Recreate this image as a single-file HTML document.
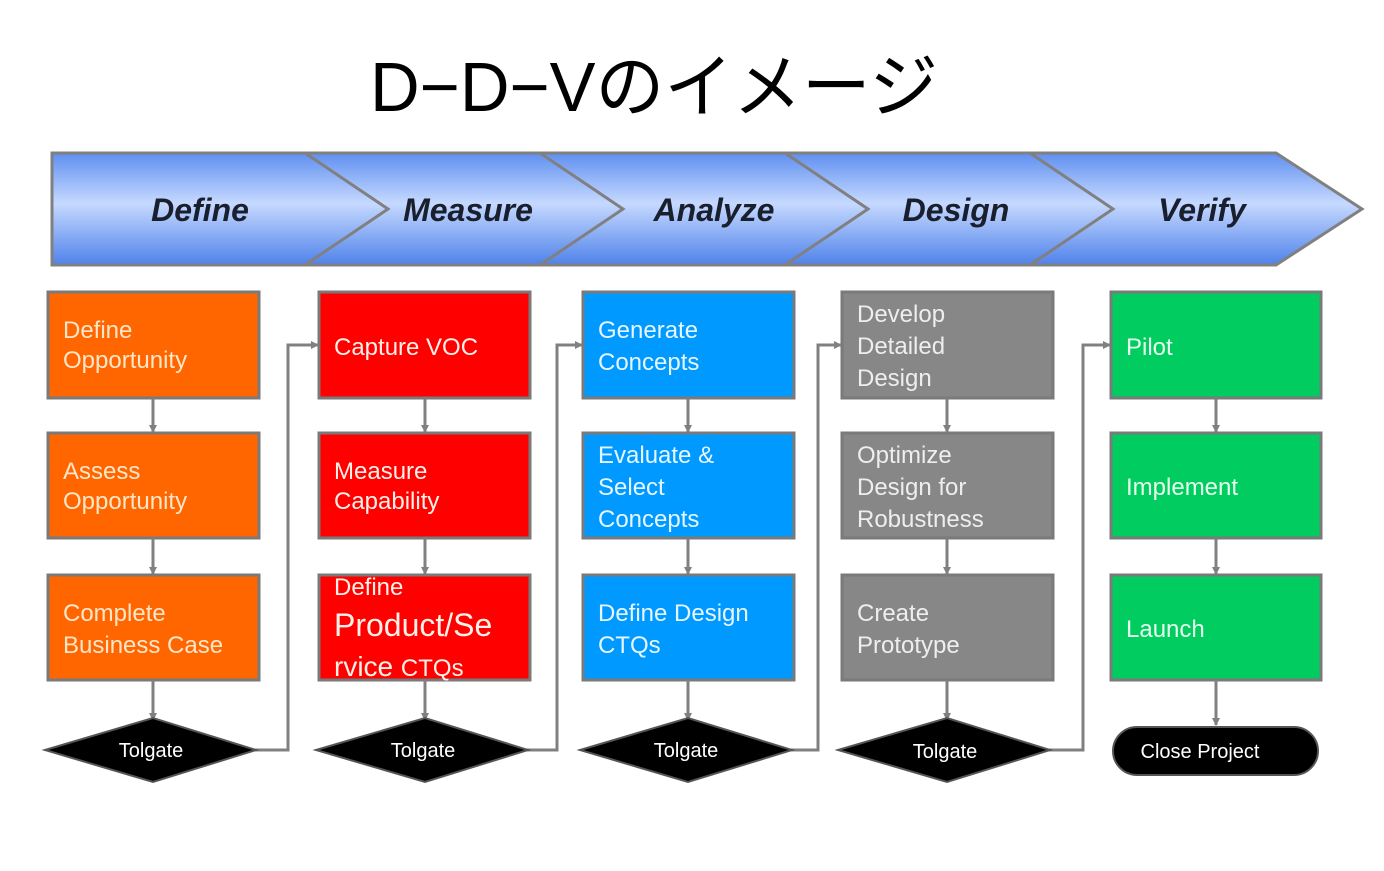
<!DOCTYPE html>
<html><head><meta charset="utf-8"><style>
html,body{margin:0;padding:0;background:#fff;}
svg{display:block;}
.b{font-family:"Liberation Sans",sans-serif;font-size:24px;}
</style></head><body>
<svg width="1384" height="871" viewBox="0 0 1384 871" xmlns="http://www.w3.org/2000/svg">
<defs>
<linearGradient id="g" x1="0" y1="0" x2="0" y2="1">
<stop offset="0" stop-color="#5f8ff0"/>
<stop offset="0.45" stop-color="#c6d9ff"/>
<stop offset="1" stop-color="#4f82ea"/>
</linearGradient>
<marker id="a" markerWidth="8" markerHeight="8" refX="7" refY="4" orient="auto" markerUnits="userSpaceOnUse">
<path d="M0,0 L8,4 L0,8 z" fill="#808080"/>
</marker>
</defs>
<text x="370" y="111" font-family="'Liberation Sans','Noto Sans CJK JP',sans-serif" font-size="70" textLength="568" lengthAdjust="spacingAndGlyphs" fill="#000">D−D−Vのイメージ</text>

<!-- banner -->
<path d="M52,153 L1276,153 L1362,209 L1276,265 L52,265 Z" fill="url(#g)" stroke="#808080" stroke-width="3"/>
<g fill="none" stroke="#808080" stroke-width="3">
<path d="M305,153 L388,209 L305,265"/>
<path d="M540,153 L623,209 L540,265"/>
<path d="M785,153 L868,209 L785,265"/>
<path d="M1030,153 L1113,209 L1030,265"/>
</g>
<g font-family="'Liberation Sans',sans-serif" font-size="32" font-weight="bold" font-style="italic" fill="#1a1f2e" text-anchor="middle">
<text x="200" y="221">Define</text>
<text x="468" y="221">Measure</text>
<text x="714" y="221">Analyze</text>
<text x="956" y="221">Design</text>
<text x="1202" y="221">Verify</text>
</g>

<!-- boxes -->
<g stroke="#7a7a7a" stroke-width="3">
<rect x="48" y="292" width="211" height="106" fill="#ff6600"/>
<rect x="48" y="433" width="211" height="105" fill="#ff6600"/>
<rect x="48" y="575" width="211" height="105" fill="#ff6600"/>
<rect x="319" y="292" width="211" height="106" fill="#ff0000"/>
<rect x="319" y="433" width="211" height="105" fill="#ff0000"/>
<rect x="319" y="575" width="211" height="105" fill="#ff0000"/>
<rect x="583" y="292" width="211" height="106" fill="#0099ff"/>
<rect x="583" y="433" width="211" height="105" fill="#0099ff"/>
<rect x="583" y="575" width="211" height="105" fill="#0099ff"/>
<rect x="842" y="292" width="211" height="106" fill="#878787"/>
<rect x="842" y="433" width="211" height="105" fill="#878787"/>
<rect x="842" y="575" width="211" height="105" fill="#878787"/>
<rect x="1111" y="292" width="210" height="106" fill="#00cc5f"/>
<rect x="1111" y="433" width="210" height="105" fill="#00cc5f"/>
<rect x="1111" y="575" width="210" height="105" fill="#00cc5f"/>
</g>

<!-- vertical arrows -->
<g stroke="#808080" stroke-width="3" marker-end="url(#a)">
<line x1="153" y1="398" x2="153" y2="432"/><line x1="153" y1="538" x2="153" y2="574"/><line x1="153" y1="680" x2="153" y2="720"/>
<line x1="425" y1="398" x2="425" y2="432"/><line x1="425" y1="538" x2="425" y2="574"/><line x1="425" y1="680" x2="425" y2="720"/>
<line x1="688" y1="398" x2="688" y2="432"/><line x1="688" y1="538" x2="688" y2="574"/><line x1="688" y1="680" x2="688" y2="720"/>
<line x1="947" y1="398" x2="947" y2="432"/><line x1="947" y1="538" x2="947" y2="574"/><line x1="947" y1="680" x2="947" y2="720"/>
<line x1="1216" y1="398" x2="1216" y2="432"/><line x1="1216" y1="538" x2="1216" y2="574"/><line x1="1216" y1="680" x2="1216" y2="725"/>
</g>
<g fill="none" stroke="#808080" stroke-width="3" marker-end="url(#a)">
<path d="M250,750 L288,750 L288,345 L318,345"/>
<path d="M520,750 L557,750 L557,345 L582,345"/>
<path d="M785,750 L818,750 L818,345 L841,345"/>
<path d="M1045,750 L1083,750 L1083,345 L1110,345"/>
</g>

<!-- diamonds -->
<g fill="#000" stroke="#555" stroke-width="2">
<path d="M45,750 L153,718 L256,750 L153,782 Z"/>
<path d="M316,750 L425,718 L528,750 L425,782 Z"/>
<path d="M580,750 L688,718 L792,750 L688,782 Z"/>
<path d="M838,750 L947,718 L1050,750 L947,782 Z"/>
<rect x="1113" y="727" width="205" height="48" rx="24" ry="24"/>
</g>
<g font-family="'Liberation Sans',sans-serif" font-size="20" fill="#fff" text-anchor="middle">
<text x="151" y="757">Tolgate</text>
<text x="423" y="757">Tolgate</text>
<text x="686" y="757">Tolgate</text>
<text x="945" y="758">Tolgate</text>
<text x="1200" y="758">Close Project</text>
</g>

<!-- box text -->
<g class="b" fill="#ffe6c8">
<text x="63" y="338">Define</text><text x="63" y="368">Opportunity</text>
<text x="63" y="479">Assess</text><text x="63" y="509">Opportunity</text>
<text x="63" y="621">Complete</text><text x="63" y="653">Business Case</text>
</g>
<g class="b" fill="#fff0e8">
<text x="334" y="355">Capture VOC</text>
<text x="334" y="479">Measure</text><text x="334" y="509">Capability</text>
<text x="334" y="595">Define</text>
<text x="334" y="636" font-size="32">Product/Se</text>
<text x="334" y="676" font-size="28">rvice <tspan font-size="24">CTQs</tspan></text>
</g>
<g class="b" fill="#e6f6ff">
<text x="598" y="338">Generate</text><text x="598" y="370">Concepts</text>
<text x="598" y="463">Evaluate &amp;</text><text x="598" y="495">Select</text><text x="598" y="527">Concepts</text>
<text x="598" y="621">Define Design</text><text x="598" y="653">CTQs</text>
</g>
<g class="b" fill="#eeeeee">
<text x="857" y="322">Develop</text><text x="857" y="354">Detailed</text><text x="857" y="386">Design</text>
<text x="857" y="463">Optimize</text><text x="857" y="495">Design for</text><text x="857" y="527">Robustness</text>
<text x="857" y="621">Create</text><text x="857" y="653">Prototype</text>
</g>
<g class="b" fill="#e6ffee">
<text x="1126" y="355">Pilot</text>
<text x="1126" y="495">Implement</text>
<text x="1126" y="637">Launch</text>
</g>
</svg>
</body></html>
